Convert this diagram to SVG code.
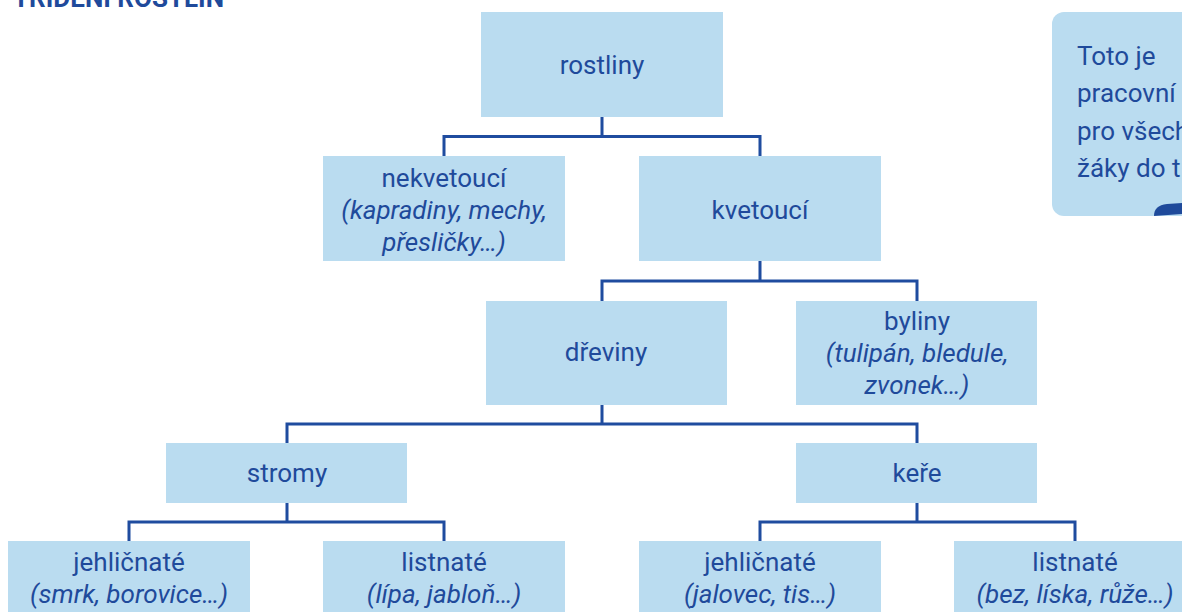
<svg xmlns="http://www.w3.org/2000/svg" width="1182" height="612" viewBox="0 0 1182 612">
<style>
.box{fill:#badcf0}
.t{font-family:Roboto,"Liberation Sans",sans-serif;font-size:26px;fill:#1f4a9b;text-anchor:middle}
.i{font-style:italic}
.c{fill:none;stroke:#1f4c9f;stroke-width:3}
.title{font-family:Roboto,"Liberation Sans",sans-serif;font-size:26px;font-weight:bold;fill:#1f4a9b}
.ct{font-family:Roboto,"Liberation Sans",sans-serif;font-size:26px;fill:#1f4a9b}
</style>
<rect width="1182" height="612" fill="#ffffff"/>
<text class="title" x="13" y="7">TŘÍDĚNÍ ROSTLIN</text>
<g id="connectors">
<path class="c" d="M602,117 V136.5 M444,156 V136.5 H760 V156"/>
<path class="c" d="M760,261 V281 M602,301 V281 H917 V301"/>
<path class="c" d="M602,405 V424 M287,443 V424 H917 V443"/>
<path class="c" d="M287,503 V522 M129,541 V522 H444 V541"/>
<path class="c" d="M917,503 V522 M760,541 V522 H1075 V541"/>
</g>
<g id="n-rostliny"><rect class="box" x="481" y="12" width="242" height="105"/><text class="t" x="602" y="74">rostliny</text></g>
<g id="n-nekvetouci"><rect class="box" x="323" y="156" width="242" height="105"/><text class="t" x="444" y="187">nekvetoucí</text><text class="t i" x="444" y="219">(kapradiny, mechy,</text><text class="t i" x="444" y="251">přesličky…)</text></g>
<g id="n-kvetouci"><rect class="box" x="639" y="156" width="242" height="105"/><text class="t" x="760" y="219">kvetoucí</text></g>
<g id="n-dreviny"><rect class="box" x="486" y="301" width="241" height="104"/><text class="t" x="606" y="361">dřeviny</text></g>
<g id="n-byliny"><rect class="box" x="796" y="301" width="241" height="104"/><text class="t" x="917" y="330">byliny</text><text class="t i" x="917" y="362">(tulipán, bledule,</text><text class="t i" x="917" y="394">zvonek…)</text></g>
<g id="n-stromy"><rect class="box" x="166" y="443" width="241" height="60"/><text class="t" x="287" y="482">stromy</text></g>
<g id="n-kere"><rect class="box" x="796" y="443" width="241" height="60"/><text class="t" x="917" y="482">keře</text></g>
<g id="n-jehl1"><rect class="box" x="8" y="541" width="242" height="80"/><text class="t" x="129" y="571">jehličnaté</text><text class="t i" x="129" y="603">(smrk, borovice…)</text></g>
<g id="n-list1"><rect class="box" x="323" y="541" width="242" height="80"/><text class="t" x="444" y="571">listnaté</text><text class="t i" x="444" y="603">(lípa, jabloň…)</text></g>
<g id="n-jehl2"><rect class="box" x="639" y="541" width="242" height="80"/><text class="t" x="760" y="571">jehličnaté</text><text class="t i" x="760" y="603">(jalovec, tis…)</text></g>
<g id="n-list2"><rect class="box" x="954" y="541" width="242" height="80"/><text class="t" x="1075" y="571">listnaté</text><text class="t i" x="1075" y="603">(bez, líska, růže…)</text></g>
<g id="callout">
<rect class="box" x="1052" y="12" width="160" height="204" rx="12"/>
<path d="M1154,216 C1154,209 1158,205 1167,204 L1182,203 L1182,214 Z" fill="#1f4a9b"/>
<text class="ct" x="1077" y="65">Toto je</text>
<text class="ct" x="1077" y="102">pracovní</text>
<text class="ct" x="1077" y="140">pro všech</text>
<text class="ct" x="1077" y="177">žáky do t</text>
</g>
</svg>
